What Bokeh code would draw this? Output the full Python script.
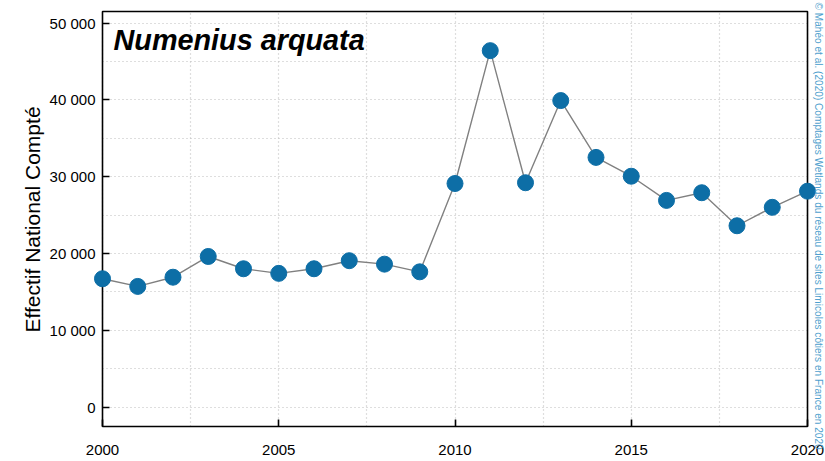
import math
from bokeh.plotting import figure
from bokeh.models import Label, Title, FixedTicker, SingleIntervalTicker, Range1d, BoxAnnotation
from bokeh.embed import file_html
from bokeh.resources import INLINE

years = [2000, 2001, 2002, 2003, 2004, 2005, 2006, 2007, 2008, 2009, 2010,
         2011, 2012, 2013, 2014, 2015, 2016, 2017, 2018, 2019, 2020]
counts = [16700, 15700, 16900, 19600, 18000, 17400, 18000, 19050, 18600, 17600, 29100,
          46400, 29200, 39900, 32500, 30050, 26900, 27900, 23600, 26000, 28100]

y_ticks = [0, 10000, 20000, 30000, 40000, 50000]
y_tick_labels = ["0", "10 000", "20 000", "30 000", "40 000", "50 000"]
x_ticks = [2000, 2005, 2010, 2015, 2020]
x_start, x_end = 2000, 2020
y_lo, y_hi = -2540, 51500          # visible plot box
y_view = (-7096, 52930)            # whole canvas height (so texts are not clipped)

title_text = "Numenius arquata"
y_label = "Effectif National Compté"
credit = "© Mahéo et al. (2020) Comptages Wetlands du réseau de sites Limicoles côtiers en France en 2020"

FONT = "Liberation Sans"
pad_left = 0.6241
pad_right = 0.5106

p = figure(width=825, height=461, output_backend="svg", toolbar_location=None,
           x_range=Range1d(x_start - pad_left, x_end + pad_right), y_range=Range1d(*y_view),
           min_border_left=80, min_border_right=0, min_border_top=0, min_border_bottom=0)
p.background_fill_color = "white"
p.border_fill_color = "white"
p.outline_line_color = None

# grid
p.xgrid.ticker = SingleIntervalTicker(interval=2.5)
p.ygrid.ticker = SingleIntervalTicker(interval=5000)
p.xgrid.bounds = (x_start, x_end)
p.xgrid.cross_bounds = (y_lo, y_hi)
p.ygrid.bounds = (0, 50000)
p.ygrid.cross_bounds = (x_start, x_end)
for g in (p.xgrid, p.ygrid):
    g.grid_line_color = "#bdbdbd"
    g.grid_line_dash = "1 3"
    g.grid_line_width = 1.2

# frame box
p.add_layout(BoxAnnotation(left=x_start, right=x_end, bottom=y_lo, top=y_hi,
                           fill_color=None, fill_alpha=0,
                           line_color="black", line_alpha=1, line_width=1.6, level="underlay"))

# axes
p.xaxis.ticker = FixedTicker(ticks=x_ticks)
p.xaxis.fixed_location = y_lo
p.yaxis.ticker = FixedTicker(ticks=y_ticks)
p.yaxis.major_label_overrides = {t: l for t, l in zip(y_ticks, y_tick_labels)}
for ax in (p.xaxis, p.yaxis):
    ax.axis_line_color = None
    ax.major_tick_line_color = "black"
    ax.major_tick_line_width = 1.6
    ax.minor_tick_line_color = None
    ax.major_label_text_font = FONT
    ax.major_label_text_font_size = "15px"
    ax.major_label_text_color = "black"
p.xaxis.major_tick_in = 7
p.xaxis.major_tick_out = 0
p.yaxis.major_tick_in = 29
p.yaxis.major_tick_out = -22
p.xaxis.major_label_standoff = 18
p.yaxis.major_label_standoff = -15

# y axis title (as a side title so it can be placed along the box)
p.add_layout(Title(text=y_label, align="left", offset=129, standoff=6,
                   text_font=FONT, text_font_size="21px", text_font_style="normal",
                   text_color="black"), "left")

# data
p.line(years, counts, line_color="#808080", line_width=1.4)
p.scatter(years, counts, size=16, marker="circle", fill_color="#0d6ea6", line_color="#0d6ea6")

# species title inside the box
p.add_layout(Label(x=33, y=422, x_units="screen", y_units="screen", text=title_text,
                   text_font=FONT, text_font_size="28.8px", text_font_style="bold italic",
                   text_color="black", text_baseline="alphabetic", text_align="left"))

# credit, vertical on the right
p.add_layout(Label(x=738, y=459, x_units="screen", y_units="screen", text=credit,
                   angle=-math.pi / 2, text_font=FONT, text_font_size="10.1px",
                   text_color="#4f9fce", text_baseline="middle", text_align="left"))

open("out.html", "w").write(file_html(p, INLINE))
